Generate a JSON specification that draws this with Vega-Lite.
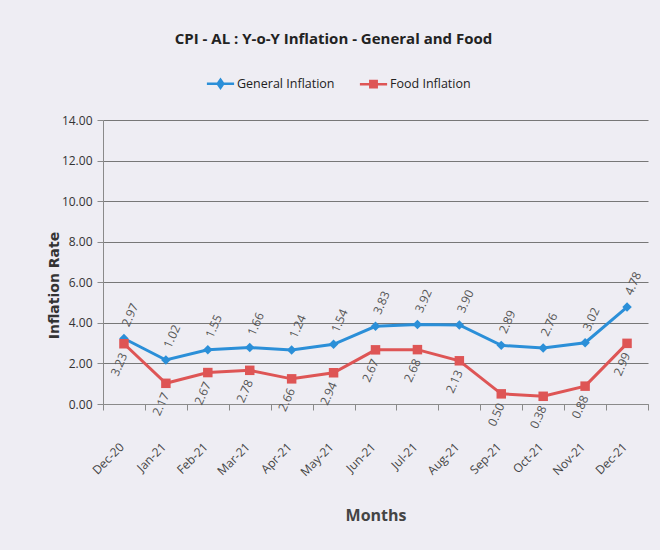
{
  "$schema": "https://vega.github.io/schema/vega-lite/v6.json",
  "width": 545,
  "height": 284,
  "autosize": "none",
  "padding": {"left": 103, "top": 120, "right": 12, "bottom": 146},
  "background": "#eeedf3",
  "config": {"view": {"stroke": null}, "font": "Open Sans"},
  "title": {
    "text": "CPI - AL : Y-o-Y Inflation - General and Food",
    "anchor": "middle",
    "frame": "group",
    "offset": 27,
    "dx": -42,
    "fontSize": 15,
    "fontWeight": "bold",
    "color": "#222222"
  },
  "data": {
    "values": [
      {"month": "Dec-20", "series": "General Inflation", "value": 3.23, "label": "2.97"},
      {"month": "Jan-21", "series": "General Inflation", "value": 2.17, "label": "1.02"},
      {"month": "Feb-21", "series": "General Inflation", "value": 2.67, "label": "1.55"},
      {"month": "Mar-21", "series": "General Inflation", "value": 2.78, "label": "1.66"},
      {"month": "Apr-21", "series": "General Inflation", "value": 2.66, "label": "1.24"},
      {"month": "May-21", "series": "General Inflation", "value": 2.94, "label": "1.54"},
      {"month": "Jun-21", "series": "General Inflation", "value": 3.83, "label": "3.83"},
      {"month": "Jul-21", "series": "General Inflation", "value": 3.92, "label": "3.92"},
      {"month": "Aug-21", "series": "General Inflation", "value": 3.90, "label": "3.90"},
      {"month": "Sep-21", "series": "General Inflation", "value": 2.89, "label": "2.89"},
      {"month": "Oct-21", "series": "General Inflation", "value": 2.76, "label": "2.76"},
      {"month": "Nov-21", "series": "General Inflation", "value": 3.02, "label": "3.02"},
      {"month": "Dec-21", "series": "General Inflation", "value": 4.78, "label": "4.78"},
      {"month": "Dec-20", "series": "Food Inflation", "value": 2.97, "label": "3.23"},
      {"month": "Jan-21", "series": "Food Inflation", "value": 1.02, "label": "2.17"},
      {"month": "Feb-21", "series": "Food Inflation", "value": 1.55, "label": "2.67"},
      {"month": "Mar-21", "series": "Food Inflation", "value": 1.66, "label": "2.78"},
      {"month": "Apr-21", "series": "Food Inflation", "value": 1.24, "label": "2.66"},
      {"month": "May-21", "series": "Food Inflation", "value": 1.54, "label": "2.94"},
      {"month": "Jun-21", "series": "Food Inflation", "value": 2.67, "label": "2.67"},
      {"month": "Jul-21", "series": "Food Inflation", "value": 2.68, "label": "2.68"},
      {"month": "Aug-21", "series": "Food Inflation", "value": 2.13, "label": "2.13"},
      {"month": "Sep-21", "series": "Food Inflation", "value": 0.50, "label": "0.50"},
      {"month": "Oct-21", "series": "Food Inflation", "value": 0.38, "label": "0.38"},
      {"month": "Nov-21", "series": "Food Inflation", "value": 0.88, "label": "0.88"},
      {"month": "Dec-21", "series": "Food Inflation", "value": 2.99, "label": "2.99"}
    ]
  },
  "encoding": {
    "x": {
      "field": "month",
      "type": "ordinal",
      "sort": null,
      "bandPosition": 0.5,
      "scale": {"type": "band", "paddingInner": 0, "paddingOuter": 0},
      "axis": {
        "title": "Months",
        "titleFont": "Open Sans",
        "titleFontSize": 16,
        "titleFontWeight": "bold",
        "titleColor": "#444444",
        "titlePadding": 30,
        "labelAngle": -45,
        "labelAlign": "right",
        "labelBaseline": "top",
        "labelFontSize": 12,
        "labelColor": "#444444",
        "labelPadding": 31,
        "labelOffset": -6,
        "tickBand": "extent",
        "tickSize": 6,
        "tickColor": "#8a8a8a",
        "domainColor": "#8a8a8a",
        "grid": false
      }
    },
    "y": {
      "field": "value",
      "type": "quantitative",
      "scale": {"domain": [0, 14], "nice": false},
      "axis": {
        "title": "Inflation Rate",
        "titleFont": "DejaVu Sans",
        "titleFontSize": 14,
        "titleFontWeight": "bold",
        "titleColor": "#333333",
        "titlePadding": 0,
        "titleY": 165,
        "values": [0, 2, 4, 6, 8, 10, 12, 14],
        "format": ".2f",
        "labelFontSize": 12,
        "labelColor": "#333333",
        "labelPadding": 5,
        "tickSize": 6,
        "tickColor": "#8a8a8a",
        "domainColor": "#8a8a8a",
        "gridColor": "#777777",
        "gridWidth": 1
      }
    }
  },
  "layer": [
    {
      "mark": {"type": "line", "strokeWidth": 3},
      "encoding": {
        "color": {
          "field": "series",
          "type": "nominal",
          "scale": {"domain": ["General Inflation", "Food Inflation"], "range": ["#2b8fd8", "#de5555"]},
          "legend": {
            "title": null,
            "orient": "none",
            "legendX": 108,
            "legendY": -46,
            "direction": "horizontal",
            "labelFont": "Open Sans",
            "labelFontSize": 12.5,
            "labelColor": "#222222",
            "symbolSize": 256,
            "labelOffset": 7,
            "columnPadding": 19,
            "encode": {
              "symbols": {
                "update": {
                  "shape": {"signal": "datum.value === 'General Inflation' ? 'M-1.7,0H1.7M0,-0.5L0.35,0L0,0.5L-0.35,0Z' : 'M-1.7,0H1.7M-0.4,-0.4H0.4V0.4H-0.4Z'"},
                  "stroke": {"signal": "datum.value === 'General Inflation' ? '#2b8fd8' : '#de5555'"},
                  "strokeWidth": {"value": 2.5}
                }
              }
            }
          }
        }
      }
    },
    {
      "transform": [{"filter": "datum.series === 'General Inflation'"}],
      "mark": {"type": "point", "filled": true, "opacity": 1, "size": 90, "shape": "diamond"},
      "encoding": {"color": {"field": "series", "type": "nominal"}}
    },
    {
      "transform": [{"filter": "datum.series === 'Food Inflation'"}],
      "mark": {"type": "point", "filled": true, "opacity": 1, "size": 90, "shape": "square"},
      "encoding": {"color": {"field": "series", "type": "nominal"}}
    },
    {
      "transform": [{"filter": "datum.series === 'General Inflation'"}],
      "mark": {"type": "text", "angle": -66, "align": "center", "baseline": "middle", "dx": 24, "dy": -4, "fontSize": 12, "color": "#555555"},
      "encoding": {"text": {"field": "label"}}
    },
    {
      "transform": [{"filter": "datum.series === 'Food Inflation'"}],
      "mark": {"type": "text", "angle": -66, "align": "center", "baseline": "middle", "dx": -21, "dy": 4, "fontSize": 12, "color": "#555555"},
      "encoding": {"text": {"field": "label"}}
    }
  ]
}
